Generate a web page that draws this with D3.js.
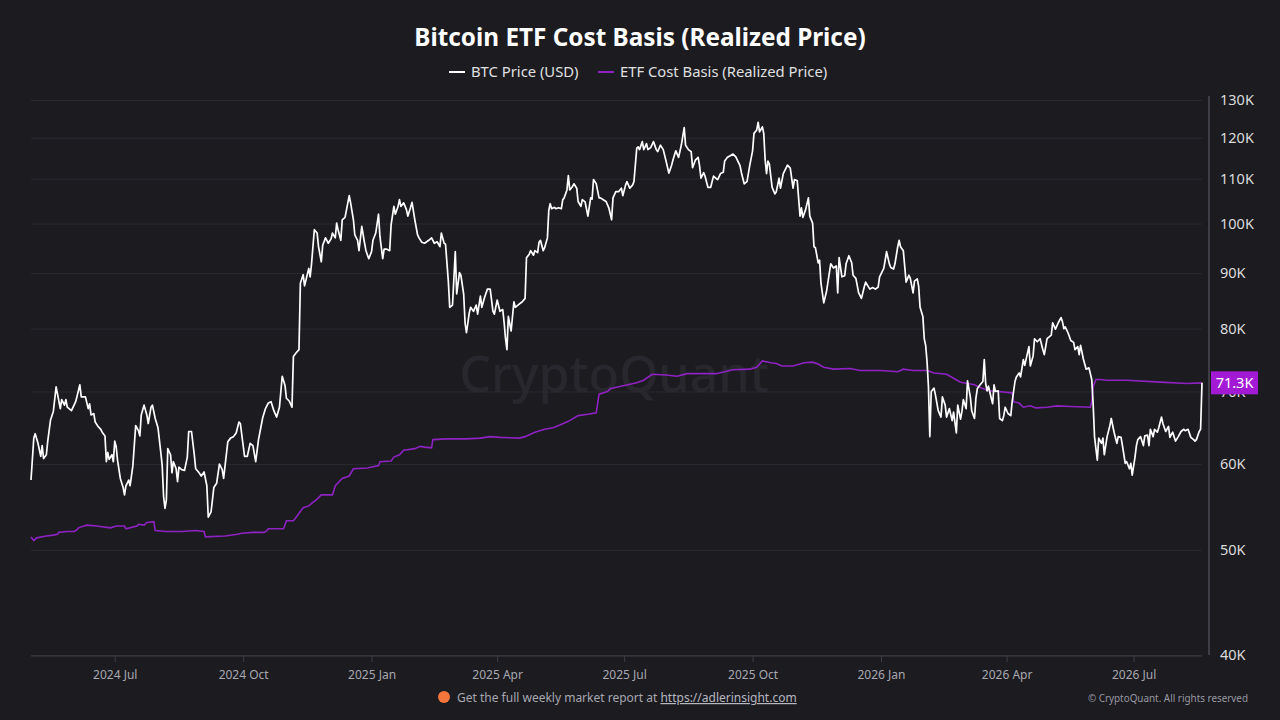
<!DOCTYPE html>
<html lang="en">
<head>
<meta charset="UTF-8">
<title>Bitcoin ETF Cost Basis (Realized Price)</title>
<script src="https://cdn.jsdelivr.net/npm/d3@7"></script>
<style>
  html, body { margin: 0; padding: 0; background: #1b1b20; }
  svg { display: block; }
  text { font-family: "Noto Sans", "Open Sans", sans-serif; }
</style>
</head>
<body>
<svg id="chart" width="1280" height="720"></svg>
<script>
// BTC daily close, USD thousands
const btcPrice = [
  ["2024-05-02",58.0],["2024-05-04",63.4],["2024-05-05",64.0],["2024-05-07",62.7],["2024-05-09",61.0],["2024-05-10",62.4],
  ["2024-05-11",60.7],["2024-05-13",61.2],["2024-05-14",63.0],["2024-05-16",65.9],["2024-05-18",67.1],["2024-05-20",70.7],
  ["2024-05-23",67.5],["2024-05-24",68.8],["2024-05-26",68.0],["2024-05-27",68.8],["2024-05-28",67.7],["2024-05-31",67.2],
  ["2024-06-03",68.5],["2024-06-04",69.3],["2024-06-06",71.0],["2024-06-07",69.2],["2024-06-10",69.2],["2024-06-12",67.5],
  ["2024-06-13",68.2],["2024-06-14",66.6],["2024-06-16",66.8],["2024-06-17",65.6],["2024-06-19",65.0],["2024-06-21",64.6],
  ["2024-06-22",64.2],["2024-06-24",63.7],["2024-06-25",60.3],["2024-06-26",61.5],["2024-06-27",60.6],["2024-06-29",61.2],
  ["2024-06-30",60.3],["2024-07-01",63.0],["2024-07-02",62.3],["2024-07-03",60.5],["2024-07-05",58.2],["2024-07-07",57.1],
  ["2024-07-08",56.2],["2024-07-09",57.3],["2024-07-11",58.0],["2024-07-12",57.3],["2024-07-14",59.8],["2024-07-16",65.1],
  ["2024-07-18",64.4],["2024-07-19",63.7],["2024-07-20",66.6],["2024-07-22",68.0],["2024-07-24",66.6],["2024-07-25",65.4],
  ["2024-07-27",67.7],["2024-07-28",68.0],["2024-07-30",66.1],["2024-08-01",64.8],["2024-08-03",61.5],["2024-08-04",59.8],
  ["2024-08-05",56.0],["2024-08-06",54.6],["2024-08-07",55.6],["2024-08-08",62.0],["2024-08-10",61.2],["2024-08-11",58.9],
  ["2024-08-12",60.3],["2024-08-14",59.4],["2024-08-15",57.8],["2024-08-16",59.6],["2024-08-18",59.3],["2024-08-20",59.2],
  ["2024-08-22",60.9],["2024-08-23",64.3],["2024-08-25",64.3],["2024-08-27",61.2],["2024-08-28",59.4],["2024-08-30",59.0],
  ["2024-09-01",58.5],["2024-09-03",59.0],["2024-09-05",57.3],["2024-09-06",53.6],["2024-09-08",54.2],["2024-09-09",55.6],
  ["2024-09-10",57.1],["2024-09-12",57.6],["2024-09-14",60.0],["2024-09-16",59.3],["2024-09-17",58.2],["2024-09-20",62.9],
  ["2024-09-22",63.4],["2024-09-24",63.6],["2024-09-26",64.1],["2024-09-28",65.6],["2024-09-29",65.4],["2024-10-02",61.0],
  ["2024-10-04",61.0],["2024-10-06",62.7],["2024-10-08",62.4],["2024-10-10",60.3],["2024-10-12",63.2],["2024-10-15",66.2],
  ["2024-10-17",67.5],["2024-10-19",68.3],["2024-10-21",68.5],["2024-10-23",67.2],["2024-10-25",66.3],["2024-10-27",67.7],
  ["2024-10-29",72.3],["2024-10-31",70.9],["2024-11-01",69.0],["2024-11-03",68.6],["2024-11-05",67.7],["2024-11-06",75.4],
  ["2024-11-08",76.0],["2024-11-10",76.5],["2024-11-11",88.1],["2024-11-12",88.9],["2024-11-13",89.7],["2024-11-14",87.6],
  ["2024-11-17",90.9],["2024-11-18",89.3],["2024-11-19",91.8],["2024-11-20",95.2],["2024-11-21",98.7],["2024-11-23",98.0],
  ["2024-11-24",95.2],["2024-11-26",92.2],["2024-11-27",95.5],["2024-11-29",97.0],["2024-12-01",95.9],["2024-12-03",96.8],
  ["2024-12-04",98.0],["2024-12-06",97.0],["2024-12-07",100.1],["2024-12-08",98.7],["2024-12-10",96.5],["2024-12-11",100.8],
  ["2024-12-13",101.3],["2024-12-15",104.5],["2024-12-16",106.1],["2024-12-17",104.5],["2024-12-19",100.8],["2024-12-20",97.6],
  ["2024-12-22",96.5],["2024-12-23",94.4],["2024-12-25",99.4],["2024-12-27",95.9],["2024-12-28",94.4],["2024-12-30",92.8],
  ["2025-01-01",94.2],["2025-01-02",96.5],["2025-01-04",98.0],["2025-01-06",102.0],["2025-01-07",97.3],["2025-01-09",92.8],
  ["2025-01-10",94.7],["2025-01-12",94.7],["2025-01-14",94.4],["2025-01-15",99.7],["2025-01-17",103.7],["2025-01-18",102.0],
  ["2025-01-20",103.7],["2025-01-21",105.2],["2025-01-22",103.7],["2025-01-24",104.5],["2025-01-26",103.0],["2025-01-27",101.6],
  ["2025-01-29",103.5],["2025-01-30",104.6],["2025-02-01",100.8],["2025-02-03",97.6],["2025-02-04",97.0],["2025-02-06",96.1],
  ["2025-02-08",95.9],["2025-02-11",96.5],["2025-02-13",97.0],["2025-02-15",95.9],["2025-02-17",96.2],["2025-02-19",95.2],
  ["2025-02-20",98.0],["2025-02-22",95.9],["2025-02-23",95.7],["2025-02-25",88.5],["2025-02-26",83.7],["2025-02-28",84.1],
  ["2025-03-02",94.2],["2025-03-03",86.1],["2025-03-05",90.1],["2025-03-06",89.6],["2025-03-08",86.1],["2025-03-09",81.0],
  ["2025-03-10",79.3],["2025-03-12",82.7],["2025-03-13",83.7],["2025-03-15",83.0],["2025-03-17",84.1],["2025-03-18",82.5],
  ["2025-03-20",85.7],["2025-03-21",83.7],["2025-03-23",85.5],["2025-03-25",87.0],["2025-03-27",87.0],["2025-03-29",83.0],
  ["2025-03-30",82.5],["2025-04-01",85.0],["2025-04-03",83.0],["2025-04-05",83.3],["2025-04-06",81.0],["2025-04-07",78.3],
  ["2025-04-08",76.5],["2025-04-09",82.1],["2025-04-11",79.6],["2025-04-13",84.7],["2025-04-14",83.7],["2025-04-17",84.3],
  ["2025-04-19",84.7],["2025-04-21",85.3],["2025-04-22",93.0],["2025-04-24",93.7],["2025-04-25",94.4],["2025-04-27",93.5],
  ["2025-04-28",94.4],["2025-04-30",94.0],["2025-05-01",96.1],["2025-05-02",96.5],["2025-05-04",94.4],["2025-05-05",95.0],
  ["2025-05-07",97.0],["2025-05-08",102.9],["2025-05-09",104.3],["2025-05-10",103.2],["2025-05-12",103.5],["2025-05-13",103.2],
  ["2025-05-15",103.4],["2025-05-17",103.2],["2025-05-18",105.2],["2025-05-19",105.6],["2025-05-21",107.4],["2025-05-22",110.7],
  ["2025-05-23",107.4],["2025-05-25",108.2],["2025-05-26",108.8],["2025-05-28",107.8],["2025-05-29",104.8],["2025-05-31",103.7],
  ["2025-06-01",105.2],["2025-06-03",104.7],["2025-06-05",101.6],["2025-06-07",105.6],["2025-06-08",105.3],["2025-06-09",109.8],
  ["2025-06-11",108.8],["2025-06-13",105.6],["2025-06-14",105.6],["2025-06-16",105.2],["2025-06-18",104.8],["2025-06-20",103.4],
  ["2025-06-22",100.8],["2025-06-23",105.6],["2025-06-25",107.0],["2025-06-27",107.0],["2025-06-29",107.8],["2025-06-30",106.1],
  ["2025-07-02",108.5],["2025-07-03",109.3],["2025-07-05",107.8],["2025-07-07",108.5],["2025-07-08",109.3],["2025-07-10",117.3],
  ["2025-07-11",117.7],["2025-07-12",117.0],["2025-07-14",119.0],["2025-07-15",117.0],["2025-07-17",118.5],["2025-07-18",117.0],
  ["2025-07-20",117.5],["2025-07-22",119.0],["2025-07-24",117.0],["2025-07-25",116.5],["2025-07-27",118.1],["2025-07-29",117.0],
  ["2025-07-31",114.2],["2025-08-02",111.3],["2025-08-04",113.2],["2025-08-05",114.5],["2025-08-07",116.7],["2025-08-09",115.1],
  ["2025-08-11",118.2],["2025-08-13",122.6],["2025-08-14",118.1],["2025-08-16",117.0],["2025-08-18",116.5],["2025-08-19",112.6],
  ["2025-08-21",114.4],["2025-08-23",115.1],["2025-08-24",113.1],["2025-08-25",110.1],["2025-08-27",111.4],["2025-08-28",110.5],
  ["2025-08-30",108.0],["2025-09-01",108.0],["2025-09-03",110.6],["2025-09-05",110.0],["2025-09-06",109.8],["2025-09-08",111.2],
  ["2025-09-10",111.5],["2025-09-11",114.2],["2025-09-13",115.1],["2025-09-15",115.5],["2025-09-17",115.9],["2025-09-19",115.2],
  ["2025-09-20",114.5],["2025-09-22",113.1],["2025-09-23",111.4],["2025-09-25",108.8],["2025-09-27",109.3],["2025-09-29",113.2],
  ["2025-10-01",116.7],["2025-10-02",121.1],["2025-10-04",122.0],["2025-10-05",124.0],["2025-10-06",121.5],["2025-10-08",122.8],
  ["2025-10-09",121.1],["2025-10-10",114.5],["2025-10-11",111.2],["2025-10-12",114.2],["2025-10-13",113.5],["2025-10-15",108.0],
  ["2025-10-17",106.5],["2025-10-18",107.0],["2025-10-20",110.1],["2025-10-21",107.8],["2025-10-23",111.2],["2025-10-26",113.2],
  ["2025-10-28",112.5],["2025-10-30",107.8],["2025-10-31",109.8],["2025-11-02",109.5],["2025-11-04",101.6],["2025-11-05",103.4],
  ["2025-11-06",101.3],["2025-11-08",103.0],["2025-11-10",105.6],["2025-11-11",101.6],["2025-11-13",100.1],["2025-11-14",95.2],
  ["2025-11-15",95.0],["2025-11-17",92.0],["2025-11-18",92.5],["2025-11-19",88.1],["2025-11-21",84.5],["2025-11-23",86.6],
  ["2025-11-24",88.3],["2025-11-26",91.8],["2025-11-28",91.0],["2025-11-30",91.4],["2025-12-01",86.3],["2025-12-02",93.0],
  ["2025-12-04",89.3],["2025-12-06",89.5],["2025-12-07",91.8],["2025-12-09",93.4],["2025-12-11",92.0],["2025-12-12",89.6],
  ["2025-12-14",89.0],["2025-12-16",86.3],["2025-12-18",85.3],["2025-12-20",87.4],["2025-12-21",88.3],["2025-12-24",87.0],
  ["2025-12-26",87.3],["2025-12-28",87.0],["2025-12-30",87.4],["2025-12-31",89.3],["2026-01-03",90.9],["2026-01-04",92.5],
  ["2026-01-05",94.2],["2026-01-07",91.8],["2026-01-08",91.1],["2026-01-10",90.8],["2026-01-11",91.8],["2026-01-13",95.2],
  ["2026-01-14",96.5],["2026-01-15",95.2],["2026-01-17",94.4],["2026-01-19",88.3],["2026-01-21",89.6],["2026-01-22",89.0],
  ["2026-01-24",86.3],["2026-01-25",88.5],["2026-01-27",88.9],["2026-01-28",87.5],["2026-01-29",83.7],["2026-01-31",82.1],
  ["2026-02-01",78.3],["2026-02-02",77.2],["2026-02-03",74.6],["2026-02-04",70.7],["2026-02-05",63.6],["2026-02-06",70.0],
  ["2026-02-08",70.5],["2026-02-09",69.5],["2026-02-11",67.2],["2026-02-13",66.3],["2026-02-14",69.2],["2026-02-16",68.0],
  ["2026-02-17",66.3],["2026-02-19",67.5],["2026-02-21",65.8],["2026-02-22",67.0],["2026-02-24",64.1],["2026-02-25",68.0],
  ["2026-02-27",66.0],["2026-02-28",67.1],["2026-03-01",68.8],["2026-03-03",67.5],["2026-03-04",71.6],["2026-03-06",69.2],
  ["2026-03-07",67.2],["2026-03-09",66.1],["2026-03-10",69.0],["2026-03-11",70.4],["2026-03-13",71.0],["2026-03-15",71.5],
  ["2026-03-16",74.9],["2026-03-17",71.2],["2026-03-18",70.1],["2026-03-19",70.8],["2026-03-21",69.0],["2026-03-22",68.2],
  ["2026-03-23",71.0],["2026-03-24",70.0],["2026-03-26",70.1],["2026-03-27",66.1],["2026-03-29",65.8],["2026-03-30",66.5],
  ["2026-03-31",67.7],["2026-04-02",66.8],["2026-04-04",66.5],["2026-04-05",68.5],["2026-04-07",71.5],["2026-04-08",72.2],
  ["2026-04-10",72.8],["2026-04-11",72.2],["2026-04-13",74.9],["2026-04-14",74.0],["2026-04-17",77.0],["2026-04-18",73.9],
  ["2026-04-20",75.5],["2026-04-21",78.3],["2026-04-23",77.8],["2026-04-25",78.3],["2026-04-27",76.5],["2026-04-28",75.7],
  ["2026-04-30",78.3],["2026-05-03",78.9],["2026-05-04",81.0],["2026-05-06",79.9],["2026-05-08",81.0],["2026-05-10",81.9],
  ["2026-05-11",81.2],["2026-05-12",80.0],["2026-05-13",80.3],["2026-05-15",79.3],["2026-05-17",78.0],["2026-05-19",77.7],
  ["2026-05-20",76.5],["2026-05-22",77.0],["2026-05-23",75.7],["2026-05-24",77.2],["2026-05-26",75.0],["2026-05-28",73.4],
  ["2026-05-30",73.6],["2026-06-01",71.8],["2026-06-02",68.2],["2026-06-03",63.6],["2026-06-04",62.0],["2026-06-05",60.5],
  ["2026-06-06",63.4],["2026-06-08",62.7],["2026-06-09",63.4],["2026-06-10",61.2],["2026-06-12",63.6],["2026-06-14",65.1],
  ["2026-06-15",66.1],["2026-06-17",64.2],["2026-06-19",62.7],["2026-06-20",63.6],["2026-06-22",63.5],["2026-06-23",62.4],
  ["2026-06-25",60.1],["2026-06-26",60.3],["2026-06-28",59.4],["2026-06-29",60.1],["2026-06-30",58.6],["2026-07-02",60.9],
  ["2026-07-03",62.4],["2026-07-04",63.2],["2026-07-06",63.6],["2026-07-08",62.4],["2026-07-09",63.7],["2026-07-11",63.8],
  ["2026-07-12",62.4],["2026-07-13",64.6],["2026-07-15",63.6],["2026-07-16",64.6],["2026-07-18",64.2],["2026-07-19",64.8],
  ["2026-07-21",66.3],["2026-07-22",65.4],["2026-07-24",64.3],["2026-07-26",65.0],["2026-07-27",63.5],["2026-07-29",64.2],
  ["2026-07-31",63.0],["2026-08-02",63.6],["2026-08-04",64.3],["2026-08-06",64.6],["2026-08-07",64.4],["2026-08-09",64.6],
  ["2026-08-11",63.5],["2026-08-13",63.2],["2026-08-14",63.0],["2026-08-15",63.2],["2026-08-17",64.3],["2026-08-18",64.6],
  ["2026-08-19",71.3]
];

// ETF cost basis (realized price), USD thousands
const etfCostBasis = [
  ["2024-05-02",51.4],["2024-05-04",51.0],["2024-05-06",51.3],["2024-05-13",51.5],["2024-05-18",51.6],["2024-05-21",51.7],
  ["2024-05-22",51.9],["2024-05-28",52.0],["2024-06-02",52.0],["2024-06-04",52.2],["2024-06-05",52.4],["2024-06-09",52.6],
  ["2024-06-11",52.7],["2024-06-18",52.6],["2024-06-28",52.4],["2024-07-02",52.6],["2024-07-08",52.6],["2024-07-09",52.3],
  ["2024-07-17",52.6],["2024-07-18",52.8],["2024-07-22",52.7],["2024-07-24",53.0],["2024-07-29",53.1],["2024-07-30",52.1],
  ["2024-08-07",52.0],["2024-08-18",52.0],["2024-08-28",52.1],["2024-09-03",52.0],["2024-09-04",51.4],["2024-09-18",51.5],
  ["2024-09-27",51.7],["2024-09-30",51.8],["2024-10-08",51.9],["2024-10-16",51.9],["2024-10-18",52.1],["2024-10-19",52.3],
  ["2024-10-30",52.3],["2024-11-01",53.2],["2024-11-06",53.2],["2024-11-08",53.6],["2024-11-13",54.7],["2024-11-17",54.9],
  ["2024-11-20",55.3],["2024-11-23",55.7],["2024-11-26",56.2],["2024-12-04",56.2],["2024-12-06",57.3],["2024-12-11",58.2],
  ["2024-12-16",58.5],["2024-12-19",59.4],["2024-12-29",59.5],["2025-01-06",59.8],["2025-01-07",60.3],["2025-01-15",60.4],
  ["2025-01-17",60.9],["2025-01-21",61.2],["2025-01-24",61.8],["2025-02-01",62.0],["2025-02-05",62.3],["2025-02-08",62.2],
  ["2025-02-13",62.1],["2025-02-14",63.2],["2025-02-24",63.3],["2025-03-10",63.3],["2025-03-20",63.4],["2025-03-27",63.6],
  ["2025-04-03",63.5],["2025-04-17",63.4],["2025-04-21",63.6],["2025-04-28",64.2],["2025-05-05",64.6],["2025-05-11",64.8],
  ["2025-05-16",65.2],["2025-05-22",65.7],["2025-05-29",66.5],["2025-06-05",66.7],["2025-06-11",66.9],["2025-06-13",69.6],
  ["2025-06-19",70.0],["2025-06-21",70.4],["2025-06-27",70.7],["2025-07-01",70.9],["2025-07-10",71.3],["2025-07-15",71.7],
  ["2025-07-21",72.6],["2025-07-31",72.5],["2025-08-08",72.3],["2025-08-15",72.7],["2025-08-24",72.7],["2025-09-05",72.7],
  ["2025-09-13",73.1],["2025-09-17",73.3],["2025-09-29",73.4],["2025-10-04",73.7],["2025-10-08",74.7],["2025-10-14",74.4],
  ["2025-10-18",74.3],["2025-10-22",73.9],["2025-10-30",73.9],["2025-11-07",74.4],["2025-11-13",74.5],["2025-11-17",74.2],
  ["2025-11-21",73.7],["2025-11-28",73.4],["2025-12-10",73.5],["2025-12-17",73.2],["2026-01-01",73.2],["2026-01-13",73.0],
  ["2026-01-17",73.4],["2026-01-24",73.2],["2026-02-03",73.2],["2026-02-08",72.8],["2026-02-17",72.6],["2026-02-22",72.0],
  ["2026-02-27",71.4],["2026-03-04",71.2],["2026-03-09",71.0],["2026-03-13",70.6],["2026-03-19",70.1],["2026-03-26",70.0],
  ["2026-04-05",69.8],["2026-04-06",68.5],["2026-04-10",68.3],["2026-04-13",67.7],["2026-04-18",67.9],["2026-04-22",67.6],
  ["2026-04-30",67.7],["2026-05-07",67.9],["2026-05-17",67.8],["2026-05-31",67.7],["2026-06-01",68.5],["2026-06-02",70.7],
  ["2026-06-04",71.8],["2026-06-07",71.8],["2026-06-12",71.7],["2026-06-26",71.7],["2026-07-20",71.4],["2026-08-08",71.2],
  ["2026-08-19",71.3]
];

const yTicks = [40, 50, 60, 70, 80, 90, 100, 110, 120, 130];
const xTicks = ["2024-07-01", "2024-10-01", "2025-01-01", "2025-04-01", "2025-07-01",
                "2025-10-01", "2026-01-01", "2026-04-01", "2026-07-01"];
const lastEtf = etfCostBasis[etfCostBasis.length - 1][1];

const parse = d3.utcParse("%Y-%m-%d");
const svg = d3.select("#chart");
const plot = { left: 31, right: 1202, top: 100, bottom: 655 };

const x = d3.scaleUtc()
    .domain([parse(btcPrice[0][0]), parse(btcPrice[btcPrice.length - 1][0])])
    .range([plot.left, plot.right]);
const y = d3.scaleLog().domain([40, 130]).range([plot.bottom, plot.top]);

// title + legend
svg.append("text")
    .attr("x", 640).attr("y", 46)
    .attr("text-anchor", "middle")
    .attr("fill", "#fff")
    .attr("font-size", 24.3).attr("font-weight", 700)
    .text("Bitcoin ETF Cost Basis (Realized Price)");

const legend = [
    { label: "BTC Price (USD)", color: "#ffffff", x: 449 },
    { label: "ETF Cost Basis (Realized Price)", color: "#8e22c2", x: 598 }
];
legend.forEach(l => {
    svg.append("line")
        .attr("x1", l.x).attr("x2", l.x + 16).attr("y1", 72).attr("y2", 72)
        .attr("stroke", l.color).attr("stroke-width", 2);
    svg.append("text")
        .attr("x", l.x + 22).attr("y", 77)
        .attr("fill", "#e0e0e0").attr("font-size", 14.8)
        .text(l.label);
});

// watermark
svg.append("text")
    .attr("x", 614).attr("y", 392)
    .attr("text-anchor", "middle")
    .attr("fill", "#27272d").attr("font-size", 50).attr("font-weight", 500)
    .text("CryptoQuant");

// gridlines
svg.append("g")
    .attr("transform", `translate(${plot.left},0)`)
    .call(d3.axisLeft(y).tickValues(yTicks).tickSize(-(plot.right - plot.left)).tickFormat(""))
    .call(g => g.select(".domain").remove())
    .call(g => g.selectAll(".tick line").attr("stroke", "#2a2a31"));

// right axis
svg.append("line")
    .attr("x1", 1209).attr("x2", 1209).attr("y1", 96).attr("y2", plot.bottom)
    .attr("stroke", "#4a4a52").attr("stroke-width", 1.5);
svg.append("g")
    .attr("transform", "translate(1212,0)")
    .call(d3.axisRight(y).tickValues(yTicks).tickSize(0).tickPadding(8).tickFormat(d => d + "K"))
    .call(g => g.select(".domain").remove())
    .call(g => g.selectAll("text").attr("fill", "#dcdcdc").attr("font-size", 14.5)
        .attr("font-family", '"Noto Sans", sans-serif'));

// bottom axis
svg.append("g")
    .attr("transform", `translate(0,${plot.bottom + 1})`)
    .call(d3.axisBottom(x).tickValues(xTicks.map(parse)).tickSize(6).tickPadding(8)
        .tickFormat(d3.utcFormat("%Y %b")))
    .call(g => g.select(".domain").attr("stroke", "#3e3e46").attr("d", `M${plot.left},0H${plot.right}`))
    .call(g => g.selectAll(".tick line").attr("stroke", "#3e3e46"))
    .call(g => g.selectAll("text").attr("fill", "#a8a8b0").attr("font-size", 12)
        .attr("font-family", '"Noto Sans", sans-serif'));

// series
const line = d3.line().x(d => x(parse(d[0]))).y(d => y(d[1]));
svg.append("path").datum(etfCostBasis)
    .attr("d", line).attr("fill", "none")
    .attr("stroke", "#8e22c2").attr("stroke-width", 1.6);
svg.append("path").datum(btcPrice)
    .attr("d", line).attr("fill", "none")
    .attr("stroke", "#ffffff").attr("stroke-width", 1.7).attr("stroke-linejoin", "round");

// last value badge (covers the 70K label, as in the original)
const by = y(lastEtf);
svg.append("rect")
    .attr("x", 1211).attr("y", by - 11.5).attr("width", 47).attr("height", 23)
    .attr("fill", "#a21ad4");
svg.append("text")
    .attr("x", 1234.5).attr("y", by + 5)
    .attr("text-anchor", "middle").attr("fill", "#fff").attr("font-size", 14.5)
    .text(lastEtf + "K");

// footer
svg.append("circle").attr("cx", 444).attr("cy", 697).attr("r", 6).attr("fill", "#f4763c");
const foot = svg.append("text")
    .attr("x", 457).attr("y", 702)
    .attr("fill", "#a8a8b0").attr("font-size", 12)
    .text("Get the full weekly market report at ");
foot.append("tspan")
    .attr("fill", "#b8b8c0").attr("text-decoration", "underline")
    .text("https://adlerinsight.com");
svg.append("text")
    .attr("x", 1248).attr("y", 702)
    .attr("text-anchor", "end").attr("fill", "#9a9aa2").attr("font-size", 9.9)
    .text("© CryptoQuant. All rights reserved");
</script>
</body>
</html>
